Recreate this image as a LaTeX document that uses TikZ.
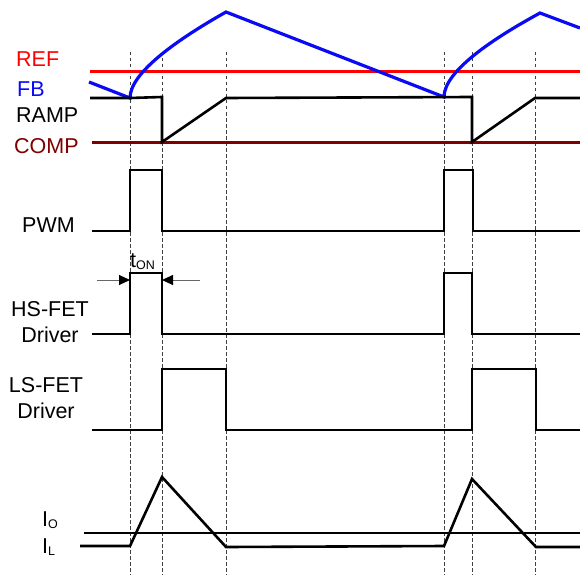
\documentclass[tikz,border=0pt]{standalone}
\usepackage{fontspec}
\setmainfont{Liberation Sans}
\usetikzlibrary{arrows.meta}

\definecolor{refred}{RGB}{255,0,0}
\definecolor{fbblue}{RGB}{10,10,245}
\definecolor{compred}{RGB}{128,0,0}

\newcommand{\lowsub}[1]{\raisebox{-2pt}{\fontsize{12.5}{14}\selectfont #1}}

\tikzstyle{wave} = [draw, line width=2.6pt, line join=miter]
\tikzstyle{level} = [draw, line width=3pt]
\tikzstyle{marker} = [draw=black!75, line width=0.8pt, dash pattern=on 3.5pt off 2.5pt]
\tikzstyle{lbl} = [inner sep=0pt, font=\fontsize{21.5}{26}\selectfont]
\tikzstyle{dim} = [draw=black!60, line width=0.9pt,
    -{Triangle[length=11pt,width=10pt,color=black]}]

\begin{document}
\begin{tikzpicture}[x=1pt, y=-1pt]
    \useasboundingbox (0,0) rectangle (580,575);
    % switching instants
    \foreach \x in {130,162,226,444,472,535}
        \draw [marker] (\x,52) -- (\x,575);
    % labels
    \node [lbl, text=refred, anchor=base west] (ref) at (16,67) {REF};
    \node [lbl, text=fbblue, anchor=base west] (fb) at (17,97) {FB};
    \node [lbl, anchor=base west] (ramp) at (16,122) {RAMP};
    \node [lbl, text=compred, anchor=base west] (comp) at (14,153) {COMP};
    \node [lbl, anchor=base west] (pwm) at (22,232) {PWM};
    \node [lbl, align=center, anchor=north] (hs) at (50,301) {HS-FET\\Driver};
    \node [lbl, align=center, anchor=north] (ls) at (46,377) {LS-FET\\Driver};
    \node [lbl, anchor=base west] (io) at (42,526) {I\lowsub{O}};
    \node [lbl, anchor=base west] (il) at (42,553) {I\lowsub{L}};
    \node [lbl, anchor=base west] (ton) at (130,267) {t\lowsub{ON}};
    % reference levels
    \draw [level, refred] (90,72) -- (580,72);
    \draw [level, compred] (92,142) -- (580,142);
    % feedback
    \draw [level, fbblue, line width=3.2pt] (89,82) -- (130,98)
        .. controls (130,72) and (180,38) .. (226,12) -- (444,97)
        .. controls (444,71) and (494,38) .. (540,13) -- (580,28);
    % ramp
    \draw [wave] (90,98) -- (130,98) -- (162,97) -- (162,142) -- (226,98)
        -- (472,97) -- (472,142) -- (535,98) -- (580,98);
    % pwm
    \draw [wave] (92,231) -- (130,231) -- (130,170) -- (162,170) -- (162,231)
        -- (444,231) -- (444,170) -- (473,170) -- (473,231) -- (580,231);
    % high side
    \draw [wave] (92,334) -- (130,334) -- (130,273) -- (162,273) -- (162,334)
        -- (444,334) -- (444,273) -- (472,273) -- (472,334) -- (580,334);
    % low side
    \draw [wave] (92,430) -- (162,430) -- (162,369) -- (226,369) -- (226,430)
        -- (472,430) -- (472,369) -- (536,369) -- (536,430) -- (580,430);
    % currents
    \draw [wave] (84,533) -- (580,533);
    \draw [wave] (80,546) -- (130,546) -- (162,477) -- (226,547) -- (444,546)
        -- (472,479) -- (536,547) -- (580,547);
    % on time
    \coordinate (tl) at (97,280);
    \coordinate (tr) at (200,280);
    \coordinate (hsup) at (130,280);
    \coordinate (hsdn) at (162,280);
    \draw [dim] (tl) -- (hsup);
    \draw [dim] (tr) -- (hsdn);
\end{tikzpicture}
\end{document}
